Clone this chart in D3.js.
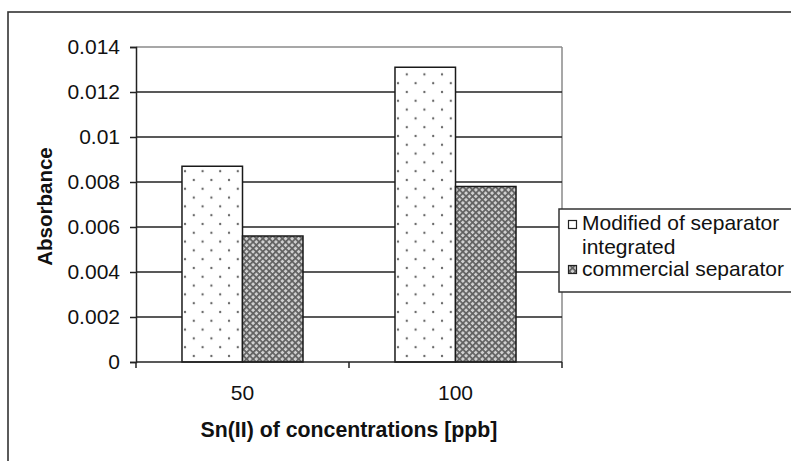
<!DOCTYPE html>
<html>
<head>
<meta charset="utf-8">
<script src="https://cdn.jsdelivr.net/npm/d3@7"></script>
<style>
  html, body { margin: 0; padding: 0; background: #fff; }
  svg { display: block; }
  text { font-family: "Liberation Sans", Arial, sans-serif; fill: #111; }
</style>
</head>
<body>
<svg id="chart" width="791" height="461"></svg>
<script>
// ---- data ----
const categories = ["50", "100"];
const seriesNames = ["Modified of separator integrated", "commercial separator"];
const modifiedValues = [0.0087, 0.0131];
const commercialValues = [0.0056, 0.0078];
const yTicks = [0, 0.002, 0.004, 0.006, 0.008, 0.01, 0.012, 0.014];
const yTickLabels = ["0", "0.002", "0.004", "0.006", "0.008", "0.01", "0.012", "0.014"];
const xTitle = "Sn(II) of concentrations [ppb]";
const yTitle = "Absorbance";
const legendLines = ["Modified of separator", "integrated", "commercial separator"];

const seriesValues = [modifiedValues, commercialValues];

const svg = d3.select("#chart");
const plot = { left: 136, right: 562, top: 47, bottom: 362 };

// patterns
const defs = svg.append("defs");
const dots = defs.append("pattern").attr("id", "dots")
  .attr("patternUnits", "userSpaceOnUse").attr("width", 17.6).attr("height", 17.6)
  .attr("x", 3).attr("y", 2);
dots.append("rect").attr("width", 17.6).attr("height", 17.6).attr("fill", "#fff");
dots.append("circle").attr("cx", 2).attr("cy", 2).attr("r", 1.15).attr("fill", "#666");
dots.append("circle").attr("cx", 10.8).attr("cy", 10.8).attr("r", 1.15).attr("fill", "#666");

const hatch = defs.append("pattern").attr("id", "hatch")
  .attr("patternUnits", "userSpaceOnUse").attr("width", 4.6).attr("height", 4.6)
  .attr("patternTransform", "rotate(45)");
hatch.append("rect").attr("width", 4.6).attr("height", 4.6).attr("fill", "#d0d0d0");
hatch.append("rect").attr("x", 0).attr("y", 0).attr("width", 4.6).attr("height", 1.7).attr("fill", "#606060");
hatch.append("rect").attr("x", 0).attr("y", 0).attr("width", 1.7).attr("height", 4.6).attr("fill", "#606060");

// outer frame
svg.append("rect").attr("x", 8).attr("y", 12).attr("width", 820).attr("height", 520)
  .attr("fill", "none").attr("stroke", "#333").attr("stroke-width", 1.6);

// scales
const x0 = d3.scaleBand().domain(categories).range([plot.left, plot.right]).padding(0);
const x1 = d3.scaleBand().domain(d3.range(seriesNames.length)).range([0, x0.bandwidth()])
  .paddingInner(0).paddingOuter(0.76);
const y = d3.scaleLinear().domain([0, 0.014]).range([plot.bottom, plot.top]);

// plot border (grey top/right)
svg.append("line").attr("x1", plot.left).attr("x2", plot.right).attr("y1", y(0.014)).attr("y2", y(0.014))
  .attr("stroke", "#8a8a8a").attr("stroke-width", 1.5);
svg.append("line").attr("x1", plot.right).attr("x2", plot.right).attr("y1", plot.top).attr("y2", plot.bottom)
  .attr("stroke", "#8a8a8a").attr("stroke-width", 1.5);

// gridlines
svg.append("g").selectAll("line").data(yTicks.filter(t => t > 0 && t < 0.014)).join("line")
  .attr("x1", plot.left).attr("x2", plot.right)
  .attr("y1", d => y(d)).attr("y2", d => y(d))
  .attr("stroke", "#222").attr("stroke-width", 1.5);

// bars
const groups = svg.append("g").selectAll("g").data(categories).join("g")
  .attr("transform", d => `translate(${x0(d)},0)`);
groups.selectAll("rect").data((d, i) => seriesValues.map((s, k) => ({ k, v: s[i] }))).join("rect")
  .attr("x", d => x1(d.k)).attr("width", x1.bandwidth())
  .attr("y", d => y(d.v)).attr("height", d => y(0) - y(d.v))
  .attr("fill", d => d.k === 0 ? "url(#dots)" : "url(#hatch)")
  .attr("stroke", "#1a1a1a").attr("stroke-width", 1.5);

// y axis
const yAxis = d3.axisLeft(y).tickValues(yTicks).tickSize(6).tickPadding(10)
  .tickFormat((d, i) => yTickLabels[i]);
const gy = svg.append("g").attr("transform", `translate(${plot.left},0)`).call(yAxis);
gy.select(".domain").attr("stroke", "#222").attr("stroke-width", 1.5);
gy.selectAll(".tick line").attr("stroke", "#222").attr("stroke-width", 1.5);
gy.selectAll(".tick text").attr("font-size", 21).attr("fill", "#111")
  .attr("font-family", "'Liberation Sans', Arial, sans-serif");

// x axis
const gx = svg.append("g").attr("transform", `translate(0,${plot.bottom})`);
gx.append("line").attr("x1", plot.left).attr("x2", plot.right).attr("y1", 0).attr("y2", 0)
  .attr("stroke", "#222").attr("stroke-width", 1.5);
const xEdges = categories.map(c => x0(c)).concat([x0(categories[categories.length - 1]) + x0.bandwidth()]);
gx.selectAll("line.tk").data(xEdges).join("line").attr("class", "tk")
  .attr("x1", d => d).attr("x2", d => d).attr("y1", 0).attr("y2", 6)
  .attr("stroke", "#222").attr("stroke-width", 1.5);
gx.selectAll("text").data(categories).join("text")
  .attr("x", d => x0(d) + x0.bandwidth() / 2).attr("y", 38)
  .attr("text-anchor", "middle").attr("font-size", 21).text(d => d);

// axis titles
svg.append("text").attr("x", (plot.left + plot.right) / 2).attr("y", 437)
  .attr("text-anchor", "middle").attr("font-size", 21.3).attr("font-weight", "bold").text(xTitle);
svg.append("text").attr("transform", `translate(52,${(plot.top + plot.bottom) / 2 + 2}) rotate(-90)`)
  .attr("text-anchor", "middle").attr("font-size", 20.5).attr("font-weight", "bold").text(yTitle);

// legend
const lg = svg.append("g");
lg.append("rect").attr("x", 559).attr("y", 209).attr("width", 300).attr("height", 83)
  .attr("fill", "#fff").attr("stroke", "#333").attr("stroke-width", 1.5);
lg.append("rect").attr("x", 568.5).attr("y", 220.5).attr("width", 8).attr("height", 8)
  .attr("fill", "url(#dots)").attr("stroke", "#222").attr("stroke-width", 1.2);
lg.append("rect").attr("x", 568.5).attr("y", 265.5).attr("width", 8).attr("height", 8)
  .attr("fill", "url(#hatch)").attr("stroke", "#222").attr("stroke-width", 1.2);
const lgY = [230, 254, 276];
lg.selectAll("text").data(legendLines).join("text")
  .attr("x", 582).attr("y", (d, i) => lgY[i]).attr("font-size", 21).text(d => d);
</script>
</body>
</html>
